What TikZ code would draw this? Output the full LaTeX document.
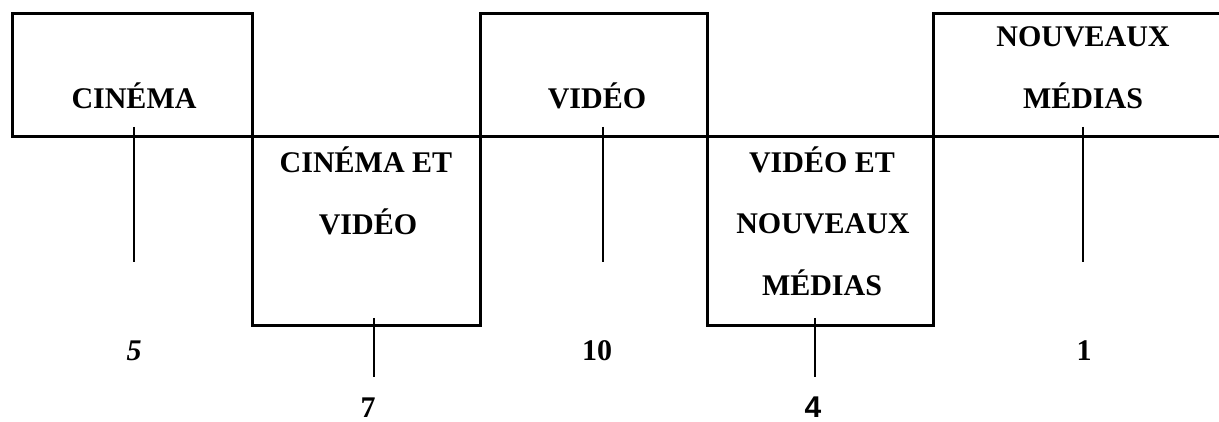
\documentclass[tikz,border=0pt]{standalone}
\usepackage{fontspec}
\setmainfont{Liberation Serif}
\newfontfamily\numsans{Liberation Sans}
\tikzset{
  thick line/.style={line width=3pt, line join=miter, line cap=rect},
  thin line/.style={line width=1.5pt},
  lab/.style={anchor=base, inner sep=0pt, font=\fontsize{30}{36}\selectfont\bfseries},
}
\begin{document}
\begin{tikzpicture}[x=1pt,y=-1pt]
\useasboundingbox (0,0) rectangle (1219,422);
% frame lines
\coordinate (L) at (12,137);
\coordinate (R) at (1221,137);
\draw[thick line] (L) -- (R);
\draw[thick line] (12,14) rectangle (252,137);
\draw[thick line] (480,14) rectangle (707,137);
\draw[thick line] (933,137) -- (933,14) -- (1221,14);
\draw[thick line] (252,137) rectangle (480,325);
\draw[thick line] (707,137) rectangle (933,325);
% labels
\node[lab] (cin) at (134,109) {CINÉMA};
\node[lab] (vid) at (597,109) {VIDÉO};
\node[lab] (nm1) at (1083,47) {NOUVEAUX};
\node[lab] (nm2) at (1083,109) {MÉDIAS};
\node[lab] (cv1) at (366,173) {CINÉMA ET};
\node[lab] (cv2) at (368,235) {VIDÉO};
\node[lab] (vn1) at (822,173) {VIDÉO ET};
\node[lab] (vn2) at (823,234) {NOUVEAUX};
\node[lab] (vn3) at (822,296) {MÉDIAS};
% numbers
\node[lab] (n5) at (134,360) {\itshape 5};
\node[lab] (n10) at (597,360) {10};
\node[lab] (n1) at (1084,360) {1};
\node[lab] (n7) at (368,417) {7};
\node[lab, font=\fontsize{30}{36}\selectfont\bfseries\numsans] (n4) at (813,417) {4};
% ticks
\coordinate (t1a) at (134,127); \coordinate (t1b) at (134,262);
\coordinate (t3a) at (603,127); \coordinate (t3b) at (603,262);
\coordinate (t5a) at (1083,127); \coordinate (t5b) at (1083,262);
\coordinate (t2a) at (374,318); \coordinate (t2b) at (374,377);
\coordinate (t4a) at (815,318); \coordinate (t4b) at (815,377);
\draw[thin line] (t1a) -- (t1b);
\draw[thin line] (t3a) -- (t3b);
\draw[thin line] (t5a) -- (t5b);
\draw[thin line] (t2a) -- (t2b);
\draw[thin line] (t4a) -- (t4b);
\end{tikzpicture}
\end{document}
